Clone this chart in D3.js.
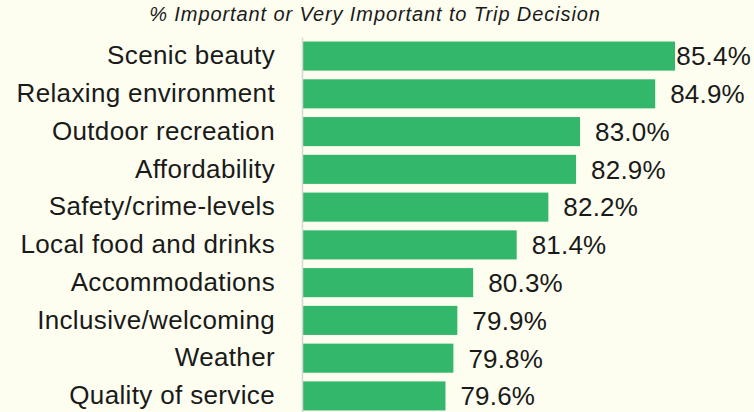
<!DOCTYPE html>
<html>
<head>
<meta charset="utf-8">
<script src="https://cdn.jsdelivr.net/npm/d3@7"></script>
<style>
  html, body { margin: 0; padding: 0; background: #fdfef0; }
  svg { display: block; font-family: "Liberation Sans", Arial, sans-serif; }
</style>
</head>
<body>
<svg id="chart"></svg>
<script>
// data
var categories = ['Scenic beauty', 'Relaxing environment', 'Outdoor recreation', 'Affordability',
  'Safety/crime-levels', 'Local food and drinks', 'Accommodations', 'Inclusive/welcoming',
  'Weather', 'Quality of service'];
var values = [85.4, 84.9, 83.0, 82.9, 82.2, 81.4, 80.3, 79.9, 79.8, 79.6];
var title = '% Important or Very Important to Trip Decision';

var width = 754, height = 412;
var margin = {top: 37, left: 302, right: 79, bottom: 0};
var font = '"Liberation Sans", Arial, sans-serif';

var svg = d3.select('#chart').attr('width', width).attr('height', height);

var rows = categories.map(function (c, i) { return {name: c, value: values[i]}; });

var x = d3.scaleLinear().domain([76, 85.4]).range([margin.left + 1, width - margin.right]);
var y = d3.scaleBand().domain(categories)
  .range([margin.top, height + 3]).paddingInner(0.23).paddingOuter(0.12);

svg.append('text')
  .attr('x', width / 2 - 2)
  .attr('y', 21)
  .attr('text-anchor', 'middle')
  .style('font-style', 'italic')
  .style('font-size', '20px')
  .style('letter-spacing', '0.9px')
  .attr('fill', '#1a1a1a')
  .text(title);

// bars
svg.append('g').selectAll('rect')
  .data(rows)
  .enter().append('rect')
  .attr('x', x(76))
  .attr('y', function (d) { return y(d.name); })
  .attr('width', function (d) { return x(d.value) - x(76); })
  .attr('height', y.bandwidth())
  .attr('fill', '#33b86b');

// category axis
var axis = svg.append('g')
  .attr('transform', 'translate(' + margin.left + ',0)')
  .call(d3.axisLeft(y).tickSize(0).tickPadding(27));
axis.select('.domain').attr('stroke', '#d6d6d6').attr('stroke-width', 1.5);
axis.selectAll('text')
  .style('font-size', '26px')
  .style('font-family', font)
  .style('letter-spacing', '0.35px')
  .attr('fill', '#1a1a1a');

// value labels
var labels = svg.append('g').selectAll('text')
  .data(rows)
  .enter().append('text')
  .attr('y', function (d) { return y(d.name) + y.bandwidth() / 2; })
  .attr('dy', '0.36em')
  .style('font-size', '26px')
  .style('letter-spacing', '0.2px')
  .attr('fill', '#1a1a1a')
  .text(function (d) { return d.value.toFixed(1) + '%'; });

labels.attr('x', function (d) {
  var w = this.getComputedTextLength();
  return Math.min(x(d.value) + 15, width - w - 3);
});
</script>
</body>
</html>
